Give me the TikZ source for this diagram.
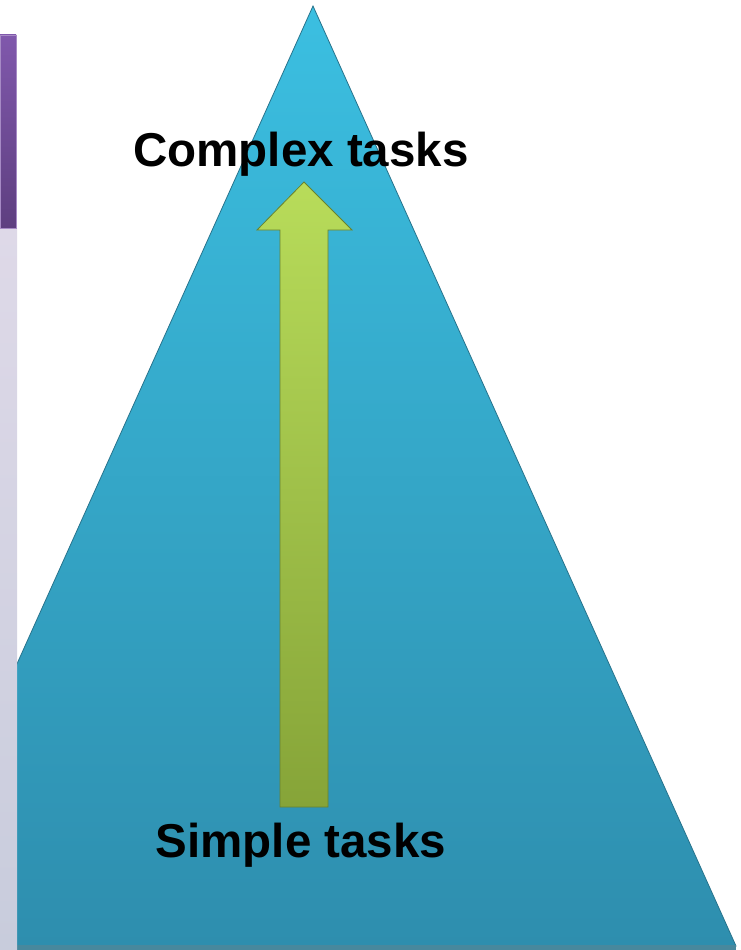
\documentclass[tikz,border=0pt]{standalone}
\usepackage{fontspec}
\setmainfont{Liberation Sans}
\usetikzlibrary{calc}
\definecolor{pyrtop}{RGB}{59,191,225}
\definecolor{pyrbot}{RGB}{46,142,174}
\definecolor{pyredge}{RGB}{40,115,140}
\definecolor{arrtop}{RGB}{184,220,90}
\definecolor{arrbot}{RGB}{134,164,56}
\definecolor{arredge}{RGB}{105,130,45}
\definecolor{bartop}{RGB}{128,88,172}
\definecolor{barbot}{RGB}{94,63,128}
\definecolor{striptop}{RGB}{222,217,232}
\definecolor{stripbot}{RGB}{200,204,220}
\tikzset{
  tasktext/.style={font=\bfseries\fontsize{47.5}{50}\selectfont,inner sep=0pt,anchor=base}
}
\begin{document}
\begin{tikzpicture}[x=1pt,y=-1pt]
\useasboundingbox (0,0) rectangle (740,950);
% pyramid
\begin{scope}
\clip (0,0) rectangle (740,950);
\shade[top color=pyrtop,bottom color=pyrbot,draw=pyredge,line width=0.8pt]
  (313,6) -- (736,946) -- (-110,946) -- cycle;
\fill[pyredge!85!white] (0,945) rectangle (736,950);
\end{scope}
% left strip
\shade[top color=striptop,bottom color=stripbot] (0,228) rectangle (17,950);
\shade[top color=bartop,bottom color=barbot,draw=bartop!70!white,line width=0.6pt] (0,35) rectangle (16,228);
% arrow
\coordinate (foot) at (304,807);
\coordinate (tip) at (304,182);
\shade[top color=arrtop,bottom color=arrbot,draw=arredge,line width=0.8pt]
  ($(foot)+(-24,0)$) -- (280,230) -- (257,230) -- (tip) -- (352,230) -- (328,230) -- ($(foot)+(24,0)$) -- cycle;
\node[tasktext] (complex) at (301,166) {Complex tasks};
\node[tasktext] (simple) at (301,857) {Simple tasks};
\end{tikzpicture}
\end{document}
